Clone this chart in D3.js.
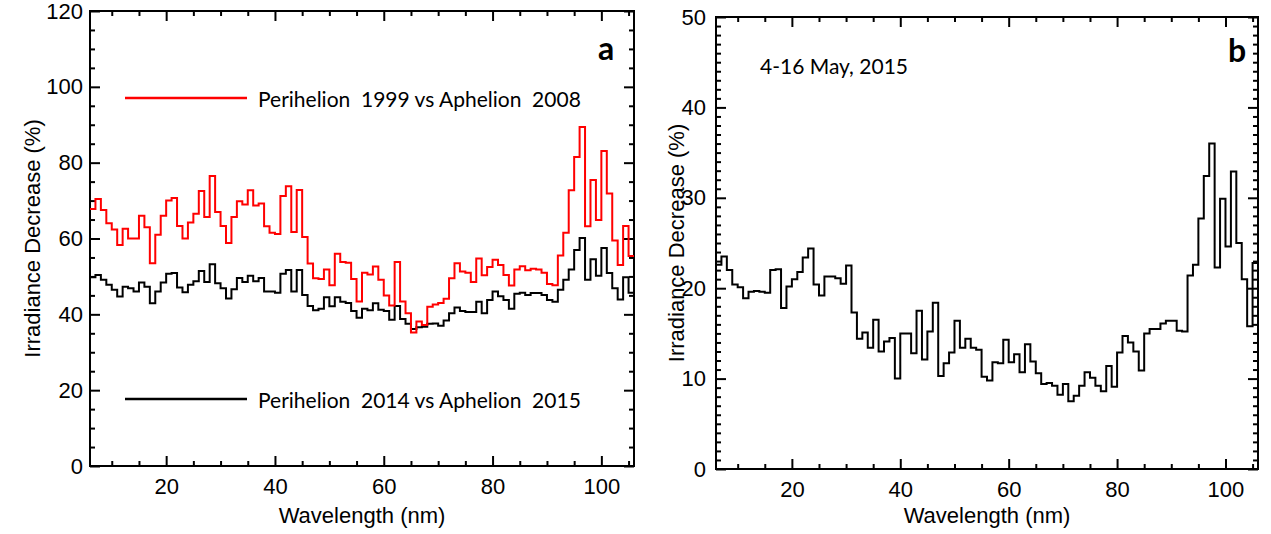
<!DOCTYPE html>
<html lang="en">
<head>
<meta charset="UTF-8">
<title>Irradiance Decrease vs Wavelength</title>
<script src="https://d3js.org/d3.v7.min.js"></script>
<style>
    body { margin: 0; background: #fff; }
    .tick text { font-family: "Liberation Sans", Arial, sans-serif; font-size: 22px; fill: #000; }
    .axis-title { font-family: "Liberation Sans", Arial, sans-serif; font-size: 22px; }
    .note { font-family: Lato, sans-serif; }
</style>
</head>
<body>
<svg id="chart" width="1271" height="534"></svg>
<script>
// 1 nm wavelength bins, left edges 6..105
const binStart = d3.range(6, 106);

// panel a
const red1999 = [
    67.8, 70.4, 67.5, 64.0, 62.4, 58.3, 62.6, 60.0, 60.0, 66.0,
    63.0, 53.5, 61.0, 66.0, 70.0, 70.7, 63.3, 60.0, 64.2, 66.5,
    72.5, 65.7, 76.5, 67.0, 63.3, 58.8, 65.7, 69.8, 69.0, 72.7,
    68.7, 69.2, 63.2, 61.5, 61.2, 71.2, 73.8, 61.7, 72.8, 60.4,
    53.4, 49.5, 49.3, 51.8, 47.7, 56.0, 53.8, 53.6, 49.3, 43.4,
    51.0, 50.5, 52.6, 49.1, 45.0, 42.3, 53.8, 43.4, 40.3, 35.2,
    38.1, 37.2, 42.0, 42.6, 43.0, 44.1, 49.5, 53.5, 51.3, 51.0,
    48.5, 54.7, 50.3, 52.5, 54.4, 53.0, 50.4, 47.6, 51.8, 52.7,
    51.6, 52.0, 51.8, 51.0, 48.0, 47.7, 55.5, 61.5, 72.7, 81.5,
    89.4, 63.2, 75.4, 64.9, 83.1, 71.9, 59.5, 53.0, 63.3, 55.4
];
const black2014 = [
    49.8, 50.4, 49.1, 47.8, 46.5, 44.7, 47.3, 46.9, 46.0, 48.4,
    47.3, 42.9, 46.0, 48.4, 50.7, 50.9, 47.1, 45.8, 47.8, 48.7,
    51.4, 48.5, 53.2, 48.2, 46.9, 44.2, 46.6, 49.6, 48.5, 50.2,
    48.7, 49.6, 46.0, 46.0, 45.7, 50.7, 51.7, 46.0, 51.7, 45.1,
    42.2, 41.1, 41.5, 44.5, 42.1, 44.5, 43.3, 43.0, 40.9, 39.1,
    41.5, 41.1, 42.9, 41.2, 40.9, 38.6, 42.2, 38.8, 37.5, 36.1,
    36.6, 36.7, 37.5, 37.6, 37.0, 38.4, 40.3, 41.8, 40.9, 40.6,
    40.6, 43.3, 40.3, 43.8, 46.0, 44.8, 43.8, 41.5, 45.4, 45.7,
    45.1, 45.6, 45.6, 45.1, 43.8, 43.3, 46.5, 49.1, 51.8, 57.0,
    60.1, 49.1, 54.5, 50.2, 57.5, 50.9, 46.9, 43.9, 49.8, 45.7
];

// panel b
const may2015 = [
    22.6, 23.5, 22.0, 20.4, 20.1, 18.9, 19.6, 19.7, 19.6, 19.5,
    22.0, 22.1, 17.8, 20.2, 21.0, 21.8, 23.4, 24.4, 20.4, 19.2,
    21.3, 21.3, 21.1, 20.5, 22.5, 17.3, 14.4, 15.1, 13.4, 16.5,
    13.0, 14.1, 14.5, 10.0, 15.0, 15.0, 12.8, 17.5, 12.1, 15.2,
    18.4, 10.3, 11.7, 12.9, 16.4, 13.4, 14.4, 13.4, 13.2, 10.2,
    9.8, 11.8, 11.7, 14.3, 11.8, 12.7, 10.7, 13.8, 11.9, 10.6,
    9.4, 9.5, 9.2, 8.2, 9.4, 7.5, 8.1, 9.2, 10.7, 10.1,
    9.2, 8.6, 11.4, 9.1, 12.9, 14.7, 14.0, 13.0, 10.9, 15.0,
    15.5, 15.5, 16.1, 16.4, 16.4, 15.3, 15.2, 21.4, 22.6, 27.7,
    32.4, 36.0, 22.3, 29.9, 24.6, 32.9, 25.0, 21.0, 15.8, 22.8
];

const xDomain = [6, 106];
const xMajor = [20, 40, 60, 80, 100];
const xMinor = d3.range(10, 106, 5).filter(d => d % 20 !== 0);

const svg = d3.select("#chart");

function drawPanel(p) {
    const x = d3.scaleLinear().domain(xDomain).range([p.left, p.right]);
    const y = d3.scaleLinear().domain([0, p.yMax]).range([p.bottom, p.top]);
    const g = svg.append("g");

    // ticks on all four sides, pointing inward
    const sides = [
        [d3.axisBottom(x), xMajor, xMinor, `translate(0,${p.bottom})`, true, 12],
        [d3.axisTop(x), xMajor, xMinor, `translate(0,${p.top})`, false, 0],
        [d3.axisLeft(y), p.yMajor, p.yMinor, `translate(${p.left},0)`, true, p.yPad],
        [d3.axisRight(y), p.yMajor, p.yMinor, `translate(${p.right},0)`, false, 0]
    ];
    sides.forEach(([axis, major, minor, tr, labels, pad]) => {
        const maj = g.append("g").attr("transform", tr)
            .call(axis.tickValues(major).tickSizeInner(-10).tickSizeOuter(0).tickPadding(pad)
                .tickFormat(labels ? d3.format("d") : () => ""));
        maj.select(".domain").remove();
        maj.selectAll("line").attr("stroke-width", 2);
        const mi = g.append("g").attr("transform", tr)
            .call(axis.tickValues(minor).tickSizeInner(-5).tickSizeOuter(0).tickFormat(() => ""));
        mi.select(".domain").remove();
        mi.selectAll("line").attr("stroke-width", 2);
    });

    g.append("rect")
        .attr("x", p.left).attr("y", p.top)
        .attr("width", p.right - p.left).attr("height", p.bottom - p.top)
        .attr("fill", "none").attr("stroke", "#000").attr("stroke-width", 2);

    const line = d3.line()
        .x(d => x(d[0]))
        .y(d => y(d[1]))
        .curve(d3.curveStepAfter);

    p.series.forEach(s => {
        const pts = binStart.map((b, i) => [b, s.values[i]]);
        pts.push([xDomain[1], s.values[s.values.length - 1]]);
        g.append("path")
            .datum(pts)
            .attr("fill", "none")
            .attr("stroke", s.color)
            .attr("stroke-width", 2)
            .attr("d", line);
    });

    g.append("text")
        .attr("class", "axis-title")
        .attr("x", (p.left + p.right) / 2)
        .attr("y", 523)
        .attr("text-anchor", "middle")
        .text("Wavelength (nm)");

    g.append("text")
        .attr("class", "axis-title")
        .attr("transform", `translate(${p.yTitleX},${(p.top + p.bottom) / 2}) rotate(-90)`)
        .attr("text-anchor", "middle")
        .attr("dominant-baseline", "central")
        .text("Irradiance Decrease (%)");

    g.append("text")
        .attr("class", "note")
        .attr("x", p.letterX).attr("y", p.letterY)
        .attr("text-anchor", "middle")
        .style("font-size", "32px")
        .style("font-weight", "bold")
        .text(p.letter);

    return { x, y, g };
}

const a = drawPanel({
    left: 90, right: 634, top: 11, bottom: 466,
    yMax: 120, yMajor: d3.range(0, 121, 20),
    yMinor: d3.range(5, 120, 5).filter(d => d % 20 !== 0),
    yPad: 7, yTitleX: 32,
    letter: "a", letterX: 606, letterY: 60,
    series: [
        { values: black2014, color: "#000" },
        { values: red1999, color: "#ff0000" }
    ]
});

const b = drawPanel({
    left: 716, right: 1258, top: 17, bottom: 469,
    yMax: 50, yMajor: d3.range(0, 51, 10),
    yMinor: d3.range(1, 50, 1).filter(d => d % 10 !== 0),
    yPad: 10, yTitleX: 676,
    letter: "b", letterX: 1237, letterY: 62,
    series: [
        { values: may2015, color: "#000" }
    ]
});

// legend of panel a
const legend = [
    { label: "Perihelion  1999 vs Aphelion  2008", color: "#ff0000", y: 98 },
    { label: "Perihelion  2014 vs Aphelion  2015", color: "#000", y: 399 }
];
legend.forEach(d => {
    a.g.append("line")
        .attr("x1", 125).attr("x2", 247)
        .attr("y1", d.y).attr("y2", d.y)
        .attr("stroke", d.color).attr("stroke-width", 2.5);
    a.g.append("text")
        .attr("class", "note")
        .attr("x", 258).attr("y", d.y)
        .attr("dominant-baseline", "central")
        .style("font-size", "21px")
        .style("white-space", "pre")
        .text(d.label);
});

b.g.append("text")
    .attr("class", "note")
    .attr("x", 760).attr("y", 65)
    .attr("dominant-baseline", "central")
    .style("font-size", "21px")
    .text("4-16 May, 2015");
</script>
</body>
</html>
